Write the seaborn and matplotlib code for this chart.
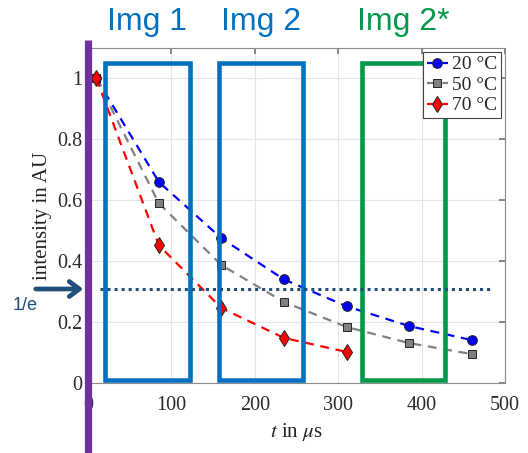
import matplotlib
matplotlib.use("Agg")
import matplotlib.pyplot as plt
import seaborn as sns
from matplotlib.patches import Rectangle
from matplotlib.lines import Line2D

# dados
t_tempo = [10, 85, 160, 235, 310, 385, 460]
t_tempo_70 = [10, 85, 160, 235, 310]
int_20 = [1.0, 0.66, 0.475, 0.34, 0.252, 0.187, 0.141]
int_50 = [1.0, 0.59, 0.387, 0.266, 0.184, 0.131, 0.095]
int_70 = [1.0, 0.452, 0.246, 0.148, 0.102]
legendas = ["20 °C", "50 °C", "70 °C"]

# janelas das imagens (inicio, fim em us)
janelas = [(20, 122), (157, 258), (329, 428)]
nomes_janelas = ["Img 1", "Img 2", "Img 2*"]
nivel_1e = 0.31

sns.set_theme(style="whitegrid")
plt.rcParams["font.family"] = ["Liberation Serif", "DejaVu Serif"]
plt.rcParams["mathtext.fontset"] = "stix"

fig = plt.figure(figsize=(5.28, 4.53), dpi=100)
ax = fig.add_axes([88 / 528, 1 - 383 / 453, (505 - 88) / 528, (383 - 48) / 453])

series = [
    (t_tempo, int_20, "#0000ff", "o", 7),
    (t_tempo, int_50, "#808080", "s", 5.5),
    (t_tempo_70, int_70, "#ff0000", "d", 8),
]
for (tx, vals, cor, marc, ms), nome in zip(series, legendas):
    sns.lineplot(x=tx, y=vals, ax=ax, color=cor, marker=marc, markersize=ms,
                 markeredgecolor="#222222", markeredgewidth=0.7,
                 linestyle=(0, (4, 3)), linewidth=1.6, label=nome, zorder=3)

ax.set_xlim(0, 500)
ax.set_ylim(0, 1.1)
ax.set_xticks([0, 100, 200, 300, 400, 500])
ax.set_yticks([0, 0.2, 0.4, 0.6, 0.8, 1.0])
ax.set_yticklabels(["0", "0.2", "0.4", "0.6", "0.8", "1"])
ax.grid(True, color="#e4e4e4", linewidth=0.8)
ax.set_facecolor("white")
for s in ax.spines.values():
    s.set_color("#8a8a8a")
    s.set_linewidth(0.8)
ax.tick_params(direction="in", top=True, right=True, length=4, color="#777777",
               labelsize=14.5, labelcolor="#2a2a2a", pad=4)
ax.tick_params(axis="x", pad=9)
ax.set_xlabel(r"$t$ in $\mu$s", fontsize=15, color="#222222", labelpad=5)
ax.set_ylabel("intensity in AU", fontsize=15, color="#222222", labelpad=4)

leg = ax.legend(loc="upper right", fontsize=14, frameon=True, fancybox=False,
                handlelength=1.1, handletextpad=0.2, borderpad=0.2,
                labelspacing=0.15, borderaxespad=0.2)
leg.get_frame().set_edgecolor("#444444")
leg.get_frame().set_linewidth(0.8)
leg.get_frame().set_alpha(1)

# caixas das imagens
cores_janelas = ["#0070c0", "#0070c0", "#00984a"]
for (x0, x1), nome, cor in zip(janelas, nomes_janelas, cores_janelas):
    ax.add_patch(Rectangle((x0, 0.01), x1 - x0, 1.04, fill=False,
                           edgecolor=cor, linewidth=3.3, zorder=4))
    xm = (x0 + x1) / 2
    ax.text(xm, 1.185, nome, color=cor, fontsize=23, ha="center", va="center",
            family=["Liberation Sans", "DejaVu Sans"], clip_on=False)

# linha 1/e
ax.plot([14, 485], [nivel_1e, nivel_1e], color="#1f4e79",
        linestyle=(0, (1, 1.3)), linewidth=2.2, zorder=5)

# linha roxa e seta
fig.add_artist(Line2D([88 / 528, 88 / 528], [0, 1 - 40 / 453], color="#7030a0",
                      linewidth=5.2, solid_capstyle="butt"))
y_seta = 1 - 289 / 453
ax.annotate("", xy=(86 / 528, y_seta), xytext=(33 / 528, y_seta),
            xycoords="figure fraction", textcoords="figure fraction",
            arrowprops=dict(arrowstyle="->,head_length=0.6,head_width=0.45",
                            color="#1f4e79", lw=3.4))
fig.text(25 / 528, 1 - 306 / 453, "1/e", color="#1f4e79", fontsize=13,
         ha="center", va="center", family=["Liberation Sans", "DejaVu Sans"])

fig.savefig("out.png", dpi=100)
